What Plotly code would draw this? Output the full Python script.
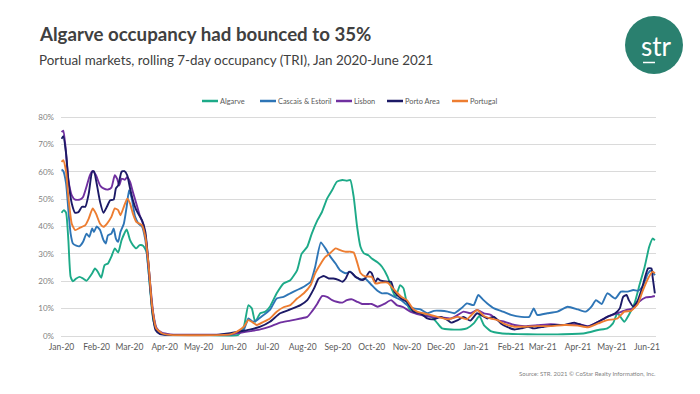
import pandas as pd
import plotly.graph_objects as go

# ---------------- data (day offset from 2020-01-01, occupancy %) ----------------
series_names = ["Algarve", "Cascais & Estoril", "Lisbon", "Porto Area", "Portugal"]
series_colors = ["#1DAA88", "#2E75B6", "#7030A0", "#1C1A66", "#ED7D31"]

algarve_days = [0, 2, 4, 6, 8, 10, 13, 16, 19, 22, 27, 29.5, 32, 35, 38, 41, 44, 47, 50, 53, 57.5, 60.5,
                63, 66, 69, 72, 75, 78, 81, 84, 88.5, 96, 120, 149, 156, 161, 165, 168, 171, 175.5, 180,
                184, 190, 196, 202, 208, 212, 217, 221, 226, 230, 234.5, 239, 243, 248, 252, 255, 258,
                261, 264, 267, 271, 274, 279, 283, 288, 292, 295, 299, 302, 305, 308, 314, 320, 327,
                332, 336, 344, 353, 358, 364, 369, 373, 379, 388, 403, 420, 438, 462, 474, 482, 487,
                491, 497, 501, 506, 510, 515, 519, 522, 524]
algarve_vals = [45, 46, 45, 35, 21.6, 20, 21, 21.6, 21, 20.2, 22.9, 24.7, 23.5, 21.3, 25.9, 26.5, 29, 32,
                30.5, 35, 38.9, 35, 33.2, 32, 33.2, 33, 30.8, 18, 5.8, 2.2, 1, 0.4, 0.4, 0.2, 0.4, 3.4,
                11.3, 10.1, 5.2, 8.3, 8.9, 10.7, 15.6, 19.2, 20.4, 24, 30, 32.6, 37.4, 42.3, 45.3, 50.2,
                53.3, 56.3, 57, 56.7, 57, 50.8, 40, 32.6, 30.2, 29.5, 28.3, 26.9, 25.3, 21.6, 16.8, 14.3,
                18.6, 17.4, 11.9, 9.5, 8.3, 7.7, 7, 4.6, 2.8, 2.4, 2.4, 2.8, 4.6, 7.3, 4, 1.8, 1, 0.7,
                0.6, 0.6, 1, 2.2, 2.8, 4.6, 8.3, 5.2, 7.7, 11.9, 18, 25.3, 32.6, 35.6, 35]

cascais_days = [0, 1.5, 4, 6, 8, 10, 13, 16, 19, 22, 24.5, 27, 28.6, 31, 34, 37, 39, 41, 44, 46, 48, 50,
                52, 55, 57.5, 59.6, 62, 65, 68, 71, 74, 77, 80, 83, 87, 93, 120, 149, 155, 161, 165, 169,
                172.6, 178.5, 184, 190, 196, 202, 208, 214, 220, 224, 229, 233, 237.5, 242, 246, 251,
                255, 259.6, 264, 268, 273, 279, 283, 288, 294, 300, 305, 311, 317, 323, 329, 335, 341,
                347, 353, 358, 364, 368, 372, 376, 382, 388, 397, 406, 413, 417, 420, 429, 438, 447,
                456, 463, 468, 472, 477, 482, 489, 494, 500, 505, 509, 513, 518, 521, 524]
cascais_vals = [60.8, 60.3, 55.7, 46, 37.4, 33.8, 33, 32.8, 34.4, 37.4, 36.2, 39.3, 38, 40, 38.7, 35,
                33.8, 36.8, 37.4, 39.3, 35.6, 34.4, 38, 41, 47.2, 53.3, 50.2, 43.5, 41, 40, 35, 22.9,
                10.7, 3.4, 1, 0.4, 0.4, 0.6, 1.3, 2.4, 6.4, 5.2, 5.8, 7.7, 9.5, 13.7, 14.3, 15.6, 16.8,
                18, 19.8, 25.3, 34.2, 32, 28.9, 26.5, 24, 22.9, 23.5, 21.6, 20.5, 21, 19, 16.5, 15.6,
                15.6, 14.3, 13.1, 11.3, 10.1, 9.7, 8.3, 9.2, 9.2, 8.9, 8.3, 10.1, 11.9, 11.3, 15, 13.4,
                11.9, 10.1, 9.2, 7.7, 7, 7, 10.1, 7.7, 8.3, 8.9, 10.7, 9.7, 8.9, 10.7, 13.1, 11.7, 15.6,
                13.7, 16.2, 16.2, 16.8, 16.5, 18, 22.9, 24, 22.2]

lisbon_days = [0, 1.5, 3.5, 6, 9, 12, 16, 19, 22, 25, 27.5, 30.4, 34, 37, 41, 44, 47, 49, 51, 53, 56, 58,
               60.5, 63, 66, 69, 72, 75, 78, 81, 84, 88.5, 96, 149, 158, 167, 175.5, 184, 193, 202, 211,
               217, 221, 226, 230, 234.5, 239, 243, 248, 252, 256.6, 261, 265.5, 270, 274, 279, 285,
               291, 296, 302, 308, 317, 326, 335, 344, 350, 355, 361, 367, 373, 379, 385, 391, 400, 409,
               420, 432, 444, 456, 465, 474, 482, 491, 499, 505, 510, 516, 521, 524]
lisbon_vals = [74.5, 75, 69, 57, 51.4, 49.8, 49.8, 50.8, 54.5, 58.7, 60.3, 58.7, 55, 53.9, 53.5, 54.2,
               58.7, 57.5, 55, 57.5, 57.1, 58.1, 56.3, 52.6, 48.4, 44.1, 41, 33.8, 20.4, 8.3, 2.8, 1.2,
               0.6, 0.6, 1.2, 1.8, 2.4, 3.4, 4.9, 5.6, 6.4, 7, 8.9, 11.9, 14.6, 14.3, 13.1, 12.5, 12.2,
               13.1, 13.4, 12.5, 11.7, 11.7, 11.7, 10.7, 11.7, 13.1, 11.3, 10.5, 8.9, 7.7, 7, 6.8, 6.4,
               7.7, 8.9, 8.3, 9.5, 8.3, 7.7, 5.8, 5.2, 4, 3.6, 3.9, 4.3, 4, 4.4, 3.6, 5.2, 7, 8.3, 9.5,
               10.1, 12.5, 14.1, 14.3, 14.6]

porto_days = [0, 1.5, 4, 6, 9, 12, 15, 18, 21, 24, 27, 28.6, 31, 34, 37, 40, 43, 46, 48, 50, 53, 55.5, 58,
              60.5, 63, 66, 71, 74, 77, 80, 83, 87, 96, 137, 149, 161, 167, 175.5, 184, 193, 202, 211,
              217, 223, 227, 231.6, 236, 240, 245, 248, 251, 254, 256.6, 259.6, 262.5, 265.5, 268, 272,
              274, 277, 279, 282, 288, 291, 294, 300, 305, 311, 317, 323, 329, 335, 341, 344, 350, 355,
              361, 367, 372, 376, 382, 388, 394, 400, 406, 412, 417, 426, 435, 444, 453, 459, 465, 474,
              482, 489, 493, 496, 499, 501, 505, 509, 513, 518, 521, 522, 524]
porto_vals = [72, 73, 66.6, 57, 48.4, 45, 45.3, 47.2, 47.2, 52, 60, 60.2, 55.7, 49, 45, 47.2, 49.6, 49.8,
              53.9, 55, 60, 60.2, 58.7, 53.9, 49.6, 46, 42.3, 38, 25.3, 9.5, 2.2, 0.7, 0.4, 0.4, 1, 1.9,
              2.4, 3.4, 5.2, 8.3, 9.7, 11.3, 13.1, 17.4, 21, 21.9, 21, 21, 20.4, 19.8, 21, 23.5, 22.9,
              21.6, 21, 20.4, 21, 23.5, 22.9, 19.5, 21, 20.2, 19.8, 19.8, 16.2, 13.7, 12.5, 8.9, 8.3, 6.4,
              6.1, 7, 5.8, 4.9, 5.8, 7, 5.6, 8.3, 7.3, 6.4, 7, 4.6, 3.2, 2.4, 2.8, 3.4, 2.8, 3.4, 4, 4,
              4.9, 4, 3.4, 5.2, 7, 8.3, 10.1, 14.3, 15, 13.1, 10.7, 13.1, 18, 24.7, 24.7, 21.6, 15.6]

portugal_days = [0, 1.5, 4, 6, 9, 12, 16, 21, 24, 27.5, 30.4, 34, 37, 40, 44, 47, 50, 52, 55, 58, 60.5,
                 63, 66, 71, 74, 77, 80, 83.5, 88.5, 96, 149, 155, 161, 165, 169, 172.6, 178.5, 184, 190,
                 196, 202, 208, 214, 220, 224, 229, 233, 237.5, 242, 246, 251, 255, 258, 261, 264, 268,
                 274, 277, 282, 288, 294, 300, 305, 310, 314, 323, 332, 341, 350, 358, 367, 373, 379,
                 385, 391, 400, 409, 420, 432, 444, 456, 465, 474, 482, 491, 497, 503, 509, 513, 518,
                 522, 524]
portugal_vals = [63.6, 64.2, 60, 50.8, 41, 38.7, 39.5, 40.5, 42.9, 46.6, 44.7, 41, 39.9, 41, 43.5, 46.6,
                 46, 44.1, 47.2, 50.2, 48.4, 44.7, 41.7, 40.5, 36.2, 25.3, 10.7, 2.8, 1, 0.4, 0.6, 1.6,
                 3.4, 5.8, 4.9, 4, 5.2, 6.4, 8.9, 10.5, 11.3, 13.7, 15.6, 18.6, 22.9, 26.5, 28.9, 30.4,
                 32, 31.4, 30.8, 30.8, 30.5, 27, 23, 21.8, 21.6, 19.2, 19.5, 19.5, 16.8, 14.3, 13.1, 10.1,
                 8.9, 8, 7, 6.1, 7, 6.1, 9.5, 7.3, 6.4, 5.8, 4.4, 3.4, 3.4, 3.6, 3.6, 4, 3.8, 3.2, 4.6,
                 5.8, 6.4, 8.9, 9.2, 11.7, 16.2, 21, 23.5, 22.9]

y_ticks = [0, 10, 20, 30, 40, 50, 60, 70, 80]
y_tick_labels = ["0%", "10%", "20%", "30%", "40%", "50%", "60%", "70%", "80%"]
title_text = "Algarve occupancy had bounced to 35%"
subtitle_text = "Portual markets, rolling 7-day occupancy (TRI), Jan 2020-June 2021"
source_text = "Source: STR. 2021 \u00a9 CoStar Realty Information, Inc."

# ---------------- figure ----------------
# The page body has an 8px default margin, so the figure is drawn 8px smaller
# and all reference (window) pixel positions are mapped through px()/py().
OFF = 8
VW, VH = 700, 394
W, H = VW - OFF, VH - OFF
# y range padded by 2px on each side so the 0% and 80% gridlines are drawn
PLOT_L, PLOT_R, PLOT_T, PLOT_B = 61, 656, 115, 338      # plot area in window pixels
Y_PAD = 2 * 80 / 219
L, R, T, B = PLOT_L - OFF, VW - PLOT_R, PLOT_T - OFF, VH - PLOT_B
PW, PH = PLOT_R - PLOT_L, PLOT_B - PLOT_T
FONT = "Lato"


def px(x):
    return (x - PLOT_L) / PW


def py(y):
    return (PLOT_B - y) / PH


start = pd.Timestamp("2020-01-01")
all_days = [algarve_days, cascais_days, lisbon_days, porto_days, portugal_days]
all_vals = [algarve_vals, cascais_vals, lisbon_vals, porto_vals, portugal_vals]

fig = go.Figure()
for name, color, d, v in zip(series_names, series_colors, all_days, all_vals):
    dates = start + pd.to_timedelta(d, unit="D")
    fig.add_trace(go.Scatter(x=dates, y=v, name=name, mode="lines",
                             line=dict(color=color, width=1.9, shape="spline", smoothing=0.5),
                             showlegend=False))

fig.update_layout(
    template="none",
    width=W, height=H,
    margin=dict(l=L, r=R, t=T, b=B, autoexpand=False),
    paper_bgcolor="white", plot_bgcolor="white",
    font=dict(family=FONT, color="#595959"),
    xaxis=dict(type="date",
               range=[start - pd.Timedelta(hours=12), start + pd.Timedelta(days=525)],
               tickformat="%b-%y", dtick="M1", tick0="2020-01-01",
               showgrid=False, zeroline=False, showline=False, ticks="",
               tickfont=dict(size=8.5, color="#595959"), ticklabelstandoff=2),
    yaxis=dict(range=[-Y_PAD, 80 + Y_PAD], tickmode="array", tickvals=y_ticks, ticktext=y_tick_labels,
               showgrid=True, gridcolor="#DADADA", gridwidth=1, zeroline=False,
               showline=False, ticks="", tickfont=dict(size=8, color="#7F7F7F"),
               ticklabelstandoff=6),
)

annotations = [
    dict(text="<b>" + title_text + "</b>", x=px(37), y=py(34), xanchor="left", yanchor="middle",
         font=dict(size=18.7, color="#404040", family=FONT)),
    dict(text=subtitle_text, x=px(37), y=py(60), xanchor="left", yanchor="middle",
         font=dict(size=13.4, color="#404040", family=FONT)),
    dict(text=source_text, x=px(658), y=py(373), xanchor="right", yanchor="middle",
         font=dict(size=6, color="#7F7F7F", family=FONT)),
    dict(text="str", x=px(656), y=py(46), xanchor="center", yanchor="middle",
         font=dict(size=26, color="white", family=FONT)),
]

# manual legend
legend_line_x = [202, 260, 336, 387, 452]
legend_y = 101
shapes = [
    dict(type="circle", xref="paper", yref="paper", x0=px(625), x1=px(683), y0=py(74), y1=py(16),
         fillcolor="#2A806F", line=dict(width=0)),
    dict(type="line", xref="paper", yref="paper", x0=px(643), x1=px(655), y0=py(62.5), y1=py(62.5),
         line=dict(color="white", width=1.5)),
]
for name, color, lx in zip(series_names, series_colors, legend_line_x):
    shapes.append(dict(type="line", xref="paper", yref="paper", x0=px(lx), x1=px(lx + 16),
                       y0=py(legend_y), y1=py(legend_y), line=dict(color=color, width=2.5)))
    annotations.append(dict(text=name, x=px(lx + 16), y=py(legend_y), xanchor="left",
                            yanchor="middle", font=dict(size=7.4, color="#595959", family=FONT)))

for a in annotations:
    a.update(xref="paper", yref="paper", showarrow=False)
fig.update_layout(annotations=annotations, shapes=shapes)

fig.write_html("out.html")
